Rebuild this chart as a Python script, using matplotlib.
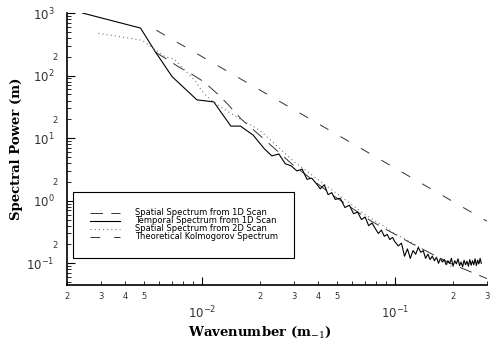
import matplotlib as mpl
mpl.use('Agg')

import matplotlib.pyplot as plt
from matplotlib.ticker import FixedLocator, FixedFormatter

mpl.rcParams['lines.scale_dashes'] = False
mpl.rcParams['mathtext.fontset'] = 'dejavuserif'

# Temporal spectrum from 1D scan (solid)
temporal_k = [0.0024, 0.0048, 0.0057, 0.0070, 0.0094, 0.0115, 0.0141, 0.0158, 0.0184,
              0.021, 0.023, 0.025, 0.027, 0.029, 0.031, 0.033, 0.035, 0.037, 0.039,
              0.041, 0.043, 0.045, 0.047, 0.049,
              0.052, 0.055, 0.058, 0.061, 0.064, 0.067, 0.070, 0.073, 0.076, 0.079,
              0.082, 0.085, 0.088, 0.091, 0.094, 0.097, 0.100,
              0.104, 0.108, 0.112, 0.116, 0.120, 0.124, 0.128, 0.132, 0.136, 0.140,
              0.144, 0.148, 0.152, 0.156, 0.160, 0.164, 0.168, 0.172, 0.176, 0.180,
              0.184, 0.188, 0.192, 0.196, 0.200, 0.204, 0.208, 0.212, 0.216, 0.220,
              0.224, 0.228, 0.232, 0.236, 0.240, 0.244, 0.248, 0.252, 0.256, 0.260,
              0.264, 0.268, 0.272, 0.276, 0.280]
temporal_p = [1000, 575, 245, 96, 41, 38, 15.6, 15.6, 11.2,
              6.8, 5.2, 5.6, 3.9, 3.6, 3.0, 3.2, 2.2, 2.3, 1.9,
              1.55, 1.8, 1.25, 1.35, 1.05,
              1.1, 0.78, 0.85, 0.62, 0.66, 0.50, 0.55, 0.40, 0.44, 0.36,
              0.30, 0.34, 0.27, 0.29, 0.24, 0.26, 0.22,
              0.19, 0.21, 0.13, 0.17, 0.12, 0.16, 0.14, 0.18, 0.15, 0.16,
              0.12, 0.14, 0.115, 0.13, 0.11, 0.125, 0.10, 0.12, 0.105, 0.115,
              0.095, 0.11, 0.10, 0.12, 0.09, 0.11, 0.098, 0.118, 0.092, 0.105,
              0.088, 0.112, 0.095, 0.108, 0.09, 0.115, 0.093, 0.11, 0.095, 0.118,
              0.092, 0.112, 0.098, 0.12, 0.10]

# Spatial spectrum from 1D scan (dashed)
spatial1d_k = [0.00575, 0.0066, 0.0075, 0.0089, 0.0102, 0.0122, 0.0137, 0.0160,
               0.0207, 0.0294, 0.0471, 0.0755, 0.121, 0.193, 0.300]
spatial1d_p = [235, 181, 140, 104, 80, 49, 34, 20,
               10, 3.8, 1.25, 0.47, 0.21, 0.1, 0.057]

# Spatial spectrum from 2D scan (dotted)
spatial2d_k = [0.0029, 0.0049, 0.0064, 0.0072, 0.0093, 0.0099, 0.0106, 0.0125,
               0.0151, 0.0191, 0.0207, 0.030, 0.050, 0.070, 0.100, 0.150, 0.200]
spatial2d_p = [475, 367, 202, 181, 80, 59, 46, 31.6,
               21.8, 14.5, 12, 4.2, 1.3, 0.6, 0.3, 0.15, 0.085]

# Theoretical Kolmogorov spectrum (long dashes)
kolmo_k = [0.0058, 0.30]
kolmo_p = [530, 0.47]

labels = ['Spatial Spectrum from 1D Scan', 'Temporal Spectrum from 1D Scan',
          'Spatial Spectrum from 2D Scan', 'Theoretical Kolmogorov Spectrum']

fig = plt.figure(figsize=(4.94, 3.43), dpi=100)
ax = fig.add_axes([0.136, 0.169, 0.850, 0.793])

l1, = ax.plot(spatial1d_k, spatial1d_p, color='#333333', lw=0.7, ls=(0, (9, 6)))
l2, = ax.plot(temporal_k, temporal_p, color='black', lw=0.8)
l3, = ax.plot(spatial2d_k, spatial2d_p, color='#777777', lw=0.8, ls=(0, (0.8, 2.2)))
l4, = ax.plot(kolmo_k, kolmo_p, color='#333333', lw=0.7, ls=(0, (7, 10)))

ax.set_xscale('log')
ax.set_yscale('log')
ax.set_xlim(2e-3, 3e-1)
ax.set_ylim(0.045, 1000)

ax.spines['top'].set_visible(False)
ax.spines['right'].set_visible(False)
ax.spines['left'].set_linewidth(1.2)
ax.spines['bottom'].set_linewidth(1.2)

# x ticks
xmaj = [1e-2, 1e-1]
ax.xaxis.set_major_locator(FixedLocator(xmaj))
ax.xaxis.set_major_formatter(FixedFormatter([r'$\mathregular{10^{-2}}$', r'$\mathregular{10^{-1}}$']))
xmin_pos, xmin_lab = [], []
for dec in [1e-3, 1e-2, 1e-1]:
    for k in range(2, 10):
        v = k * dec
        if 2e-3 <= v <= 3.01e-1:
            xmin_pos.append(v)
            xmin_lab.append(str(k) if k <= 5 else '')
ax.xaxis.set_minor_locator(FixedLocator(xmin_pos))
ax.xaxis.set_minor_formatter(FixedFormatter(xmin_lab))

# y ticks
ymaj = [1e-1, 1e0, 1e1, 1e2, 1e3]
ax.yaxis.set_major_locator(FixedLocator(ymaj))
ax.yaxis.set_major_formatter(FixedFormatter([r'$\mathregular{10^{-1}}$', r'$\mathregular{10^{0}}$',
                                             r'$\mathregular{10^{1}}$', r'$\mathregular{10^{2}}$',
                                             r'$\mathregular{10^{3}}$']))
ymin_pos, ymin_lab = [], []
for dec in [1e-2, 1e-1, 1e0, 1e1, 1e2]:
    for k in range(2, 10):
        v = k * dec
        if 0.045 <= v <= 1000:
            ymin_pos.append(v)
            ymin_lab.append('2' if k == 2 else '')
ax.yaxis.set_minor_locator(FixedLocator(ymin_pos))
ax.yaxis.set_minor_formatter(FixedFormatter(ymin_lab))

ax.tick_params(which='both', direction='in', colors='black', labelcolor='#333333')
ax.tick_params(which='major', length=6, width=0.8, labelsize=8.5)
ax.tick_params(which='minor', length=3, width=0.6, labelsize=6)
ax.tick_params(axis='x', which='major', pad=14)
ax.tick_params(axis='x', which='minor', pad=5)
ax.tick_params(axis='y', which='major', pad=9)
ax.tick_params(axis='y', which='minor', pad=7)

ax.set_xlabel(r'Wavenumber (m$_{-1}$)', family='DejaVu Serif', fontsize=9.5,
              fontweight='bold')
ax.xaxis.set_label_coords(0.46, -0.145)
ax.set_ylabel('Spectral Power (m)', family='DejaVu Serif', fontsize=9.5,
              fontweight='bold', labelpad=2)

leg = ax.legend([l1, l2, l3, l4], labels, loc='lower left',
                bbox_to_anchor=(0.014, 0.099), borderaxespad=0,
                fontsize=6, labelspacing=-0.12, handlelength=3.6,
                handletextpad=1.8, borderpad=2.0, fancybox=False,
                framealpha=1, edgecolor='black')
leg.get_frame().set_linewidth(0.8)

plt.savefig('out.png', dpi=100)
